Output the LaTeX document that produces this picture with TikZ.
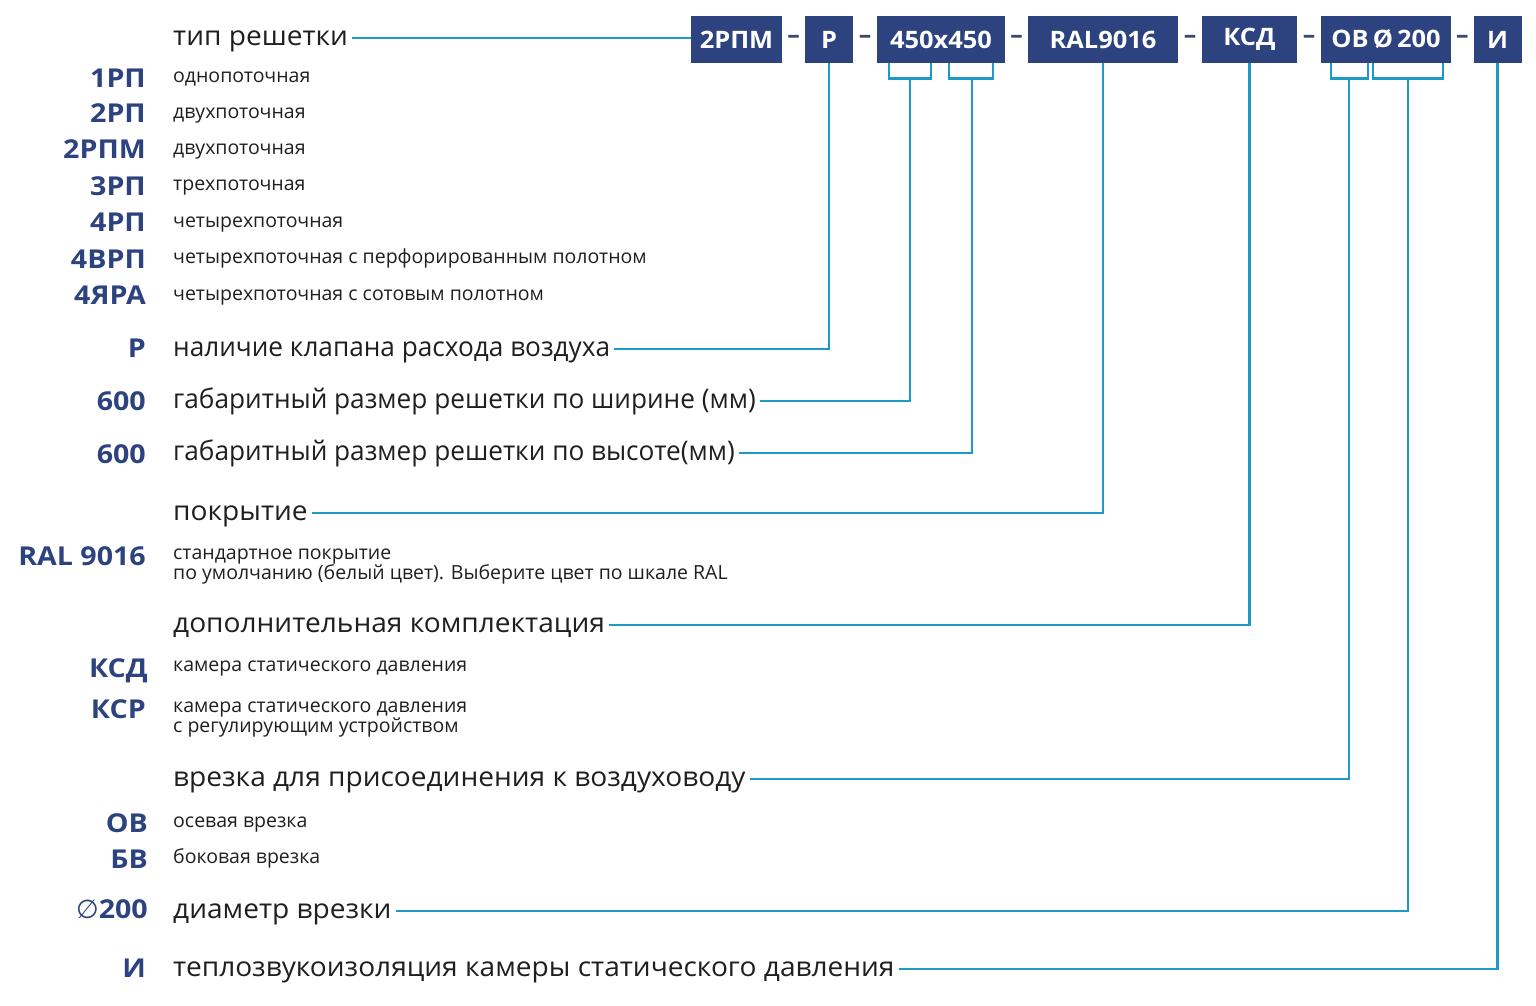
\documentclass[tikz,border=0pt]{standalone}
\usepackage{fontspec}
\setmainfont{Open Sans}
\newfontfamily\headfont[FakeStretch=1.04]{Open Sans}
\newfontfamily\tightfont[FakeStretch=0.97]{Open Sans}
\newfontfamily\codefont[FakeStretch=1.1]{Open Sans}
\newfontfamily\boxfont[FakeStretch=1.06]{Open Sans}
\newfontfamily\symbfont{DejaVu Sans}
\usetikzlibrary{positioning}
\definecolor{navy}{HTML}{2C4380}
\definecolor{leadc}{HTML}{1E9AC8}
\definecolor{inkc}{HTML}{1F1F1F}
\definecolor{sepc}{HTML}{3B4A6B}

\begin{document}
\begin{tikzpicture}[x=1pt,y=-1pt,
                codebox/.style={rectangle, fill=navy, text=white, inner sep=0pt, minimum height=47pt,
                    font=\boxfont\fontsize{24}{26}\selectfont\bfseries},
                sep/.style={text=sepc, inner sep=0pt, font=\fontsize{25}{27}\selectfont\bfseries},
                head/.style={anchor=west, text=inkc, inner ysep=0pt, inner xsep=4pt,
                    text height=14.4pt, text depth=0pt, font=\headfont\fontsize{27}{30}\selectfont},
                tight/.style={head, font=\tightfont\fontsize{27}{30}\selectfont},
                desc/.style={anchor=west, text=inkc, inner sep=0pt,
                    text height=10.4pt, text depth=0pt, font=\fontsize{19.5}{22}\selectfont},
                code/.style={anchor=east, text=navy, inner sep=0pt,
                    text height=18.6pt, text depth=0pt, font=\codefont\fontsize{26}{28}\selectfont\bfseries},
                conn/.style={draw=leadc, line width=2.8pt}
            ]
            \useasboundingbox (0,0) rectangle (1536,1006);
            % order code
            \node[codebox, minimum width=91pt](kind) at (736.5,39.5){2РПМ};
            \node[codebox, minimum width=48pt](valve) at (829,39.5){Р};
            \node[codebox, minimum width=128pt](dims) at (941,39.5){450x450};
            \node[codebox, minimum width=150pt](paint) at (1103,39.5){RAL9016};
            \node[codebox, minimum width=95pt](extra) at (1249.5,39.5){КСД};
            \node[codebox, minimum width=130pt](cut) at (1386,39.5){ОВ\,Ø\,200};
            \node[codebox, minimum width=48pt](insul) at (1497.5,39.5){И};
            \path (kind.east) -- node[sep]{–} (valve.west);
            \path (valve.east) -- node[sep]{–} (dims.west);
            \path (dims.east) -- node[sep]{–} (paint.west);
            \path (paint.east) -- node[sep]{–} (extra.west);
            \path (extra.east) -- node[sep]{–} (cut.west);
            \path (cut.east) -- node[sep]{–} (insul.west);

            % grid type
            \node[head](typetxt) at (169,38){тип решетки};
            \node[code](c1) at (146,78){1РП};
            \node[desc](d1) at (173,77){однопоточная};
            \node[code](c2) at (146,113){2РП};
            \node[desc](d2) at (173,113){двухпоточная};
            \node[code](c3) at (146,149){2РПМ};
            \node[desc](d3) at (173,149){двухпоточная};
            \node[code](c4) at (146,186){3РП};
            \node[desc](d4) at (173,185){трехпоточная};
            \node[code](c5) at (146,222){4РП};
            \node[desc](d5) at (173,222){четырехпоточная};
            \node[code](c6) at (146,259){4ВРП};
            \node[desc](d6) at (173,258){четырехпоточная с перфорированным полотном};
            \node[code](c7) at (146,295){4ЯРА};
            \node[desc](d7) at (173,295){четырехпоточная с сотовым полотном};

            % valve and sizes
            \node[code](cvalve) at (146,348){Р};
            \node[tight](valvetxt) at (169,349){наличие клапана расхода воздуха};
            \node[code](cwidth) at (146,401){600};
            \node[tight](widthtxt) at (169,401){габаритный размер решетки по ширине (мм)};
            \node[code](cheight) at (146,454){600};
            \node[tight](heighttxt) at (169,453){габаритный размер решетки по высоте(мм)};

            % coating
            \node[head](painttxt) at (169,513){покрытие};
            \node[code](cral) at (146,556){RAL 9016};
            \node[desc](dral1) at (173,554){стандартное покрытие};
            \node[desc](dral2) at (173,574){по умолчанию (белый цвет). Выберите цвет по шкале RAL};

            % extras
            \node[head](extratxt) at (169,625){дополнительная комплектация};
            \node[code](cksd) at (148,668){КСД};
            \node[desc](dksd) at (173,666){камера статического давления};
            \node[code](cksr) at (146,709){КСР};
            \node[desc](dksr1) at (173,707){камера статического давления};
            \node[desc](dksr2) at (173,727){с регулирующим устройством};

            % duct connection
            \node[head](cuttxt) at (169,779){врезка для присоединения к воздуховоду};
            \node[code](cov) at (148,823){ОВ};
            \node[desc](dov) at (173,822){осевая врезка};
            \node[code](cbv) at (148,859){БВ};
            \node[desc](dbv) at (173,858){боковая врезка};
            \node[code](cdiam) at (148,909){{\symbfont\mdseries ∅}200};
            \node[head](diamtxt) at (169,911){диаметр врезки};

            % insulation
            \node[code](cins) at (146,968){И};
            \node[head](insultxt) at (169,969){теплозвукоизоляция камеры статического давления};

            % brackets under the code
            \coordinate (wid-m) at ([xshift=-31pt,yshift=-15pt]dims.south);
            \coordinate (hei-m) at ([xshift=31pt,yshift=-15pt]dims.south);
            \coordinate (ov-m) at ([xshift=-37pt,yshift=-15pt]cut.south);
            \coordinate (dia-m) at ([xshift=22pt,yshift=-15pt]cut.south);
            \draw[conn] ([xshift=-52pt]dims.south) -- ([xshift=-52pt,yshift=-15pt]dims.south) -- ([xshift=-10pt,yshift=-15pt]dims.south) -- ([xshift=-10pt]dims.south);
            \draw[conn] ([xshift=8pt]dims.south) -- ([xshift=8pt,yshift=-15pt]dims.south) -- ([xshift=52pt,yshift=-15pt]dims.south) -- ([xshift=52pt]dims.south);
            \draw[conn] ([xshift=-55pt]cut.south) -- ([xshift=-55pt,yshift=-15pt]cut.south) -- ([xshift=-18pt,yshift=-15pt]cut.south) -- ([xshift=-18pt]cut.south);
            \draw[conn] ([xshift=-13pt]cut.south) -- ([xshift=-13pt,yshift=-15pt]cut.south) -- ([xshift=57pt,yshift=-15pt]cut.south) -- ([xshift=57pt]cut.south);

            % leader lines
            \draw[conn] (typetxt.east) -- (typetxt.east -| kind.west);
            \draw[conn] (valve.south) |- (valvetxt.east);
            \draw[conn] (wid-m) |- (widthtxt.east);
            \draw[conn] (hei-m) |- (heighttxt.east);
            \draw[conn] (paint.south) |- (painttxt.east);
            \draw[conn] (extra.south) |- (extratxt.east);
            \draw[conn] (ov-m) |- (cuttxt.east);
            \draw[conn] (dia-m) |- (diamtxt.east);
            \draw[conn] (insul.south) |- (insultxt.east);
        \end{tikzpicture}
\end{document}
